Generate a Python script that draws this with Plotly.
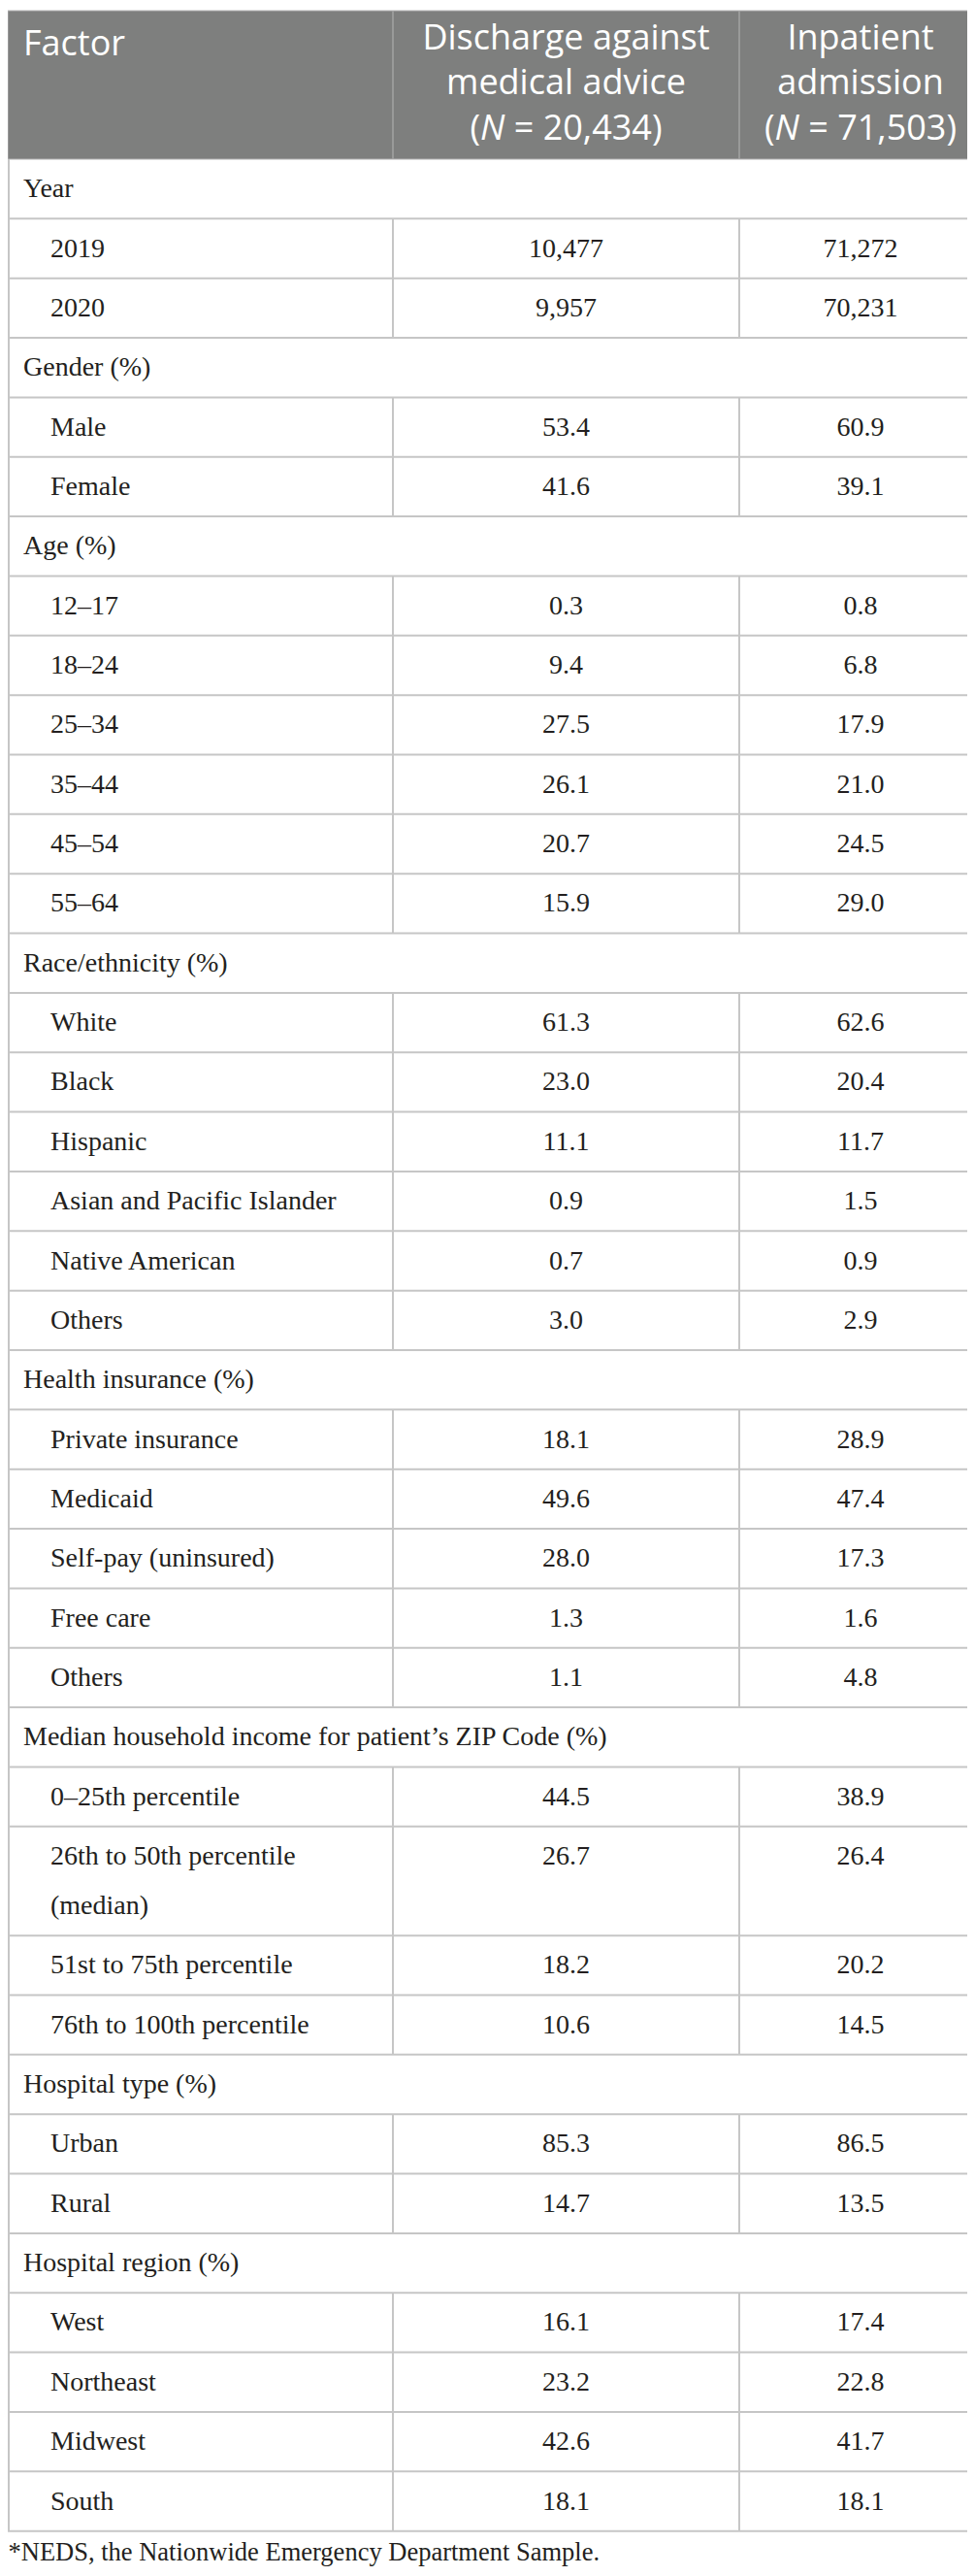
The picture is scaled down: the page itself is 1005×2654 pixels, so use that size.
import plotly.graph_objects as go

# table content
header_factor = "Factor"
header_dama = "Discharge against<br>medical advice<br>(<i>N</i> = 20,434)"
header_inpat = "Inpatient<br>admission<br>(<i>N</i> = 71,503)"

factors = [
    "Year", "2019", "2020",
    "Gender (%)", "Male", "Female",
    "Age (%)", "12\u201317", "18\u201324", "25\u201334", "35\u201344", "45\u201354", "55\u201364",
    "Race/ethnicity (%)", "White", "Black", "Hispanic", "Asian and Pacific Islander",
    "Native American", "Others",
    "Health insurance (%)", "Private insurance", "Medicaid", "Self-pay (uninsured)",
    "Free care", "Others",
    "Median household income for patient\u2019s ZIP Code (%)", "0\u201325th percentile",
    "26th to 50th percentile<br>(median)", "51st to 75th percentile", "76th to 100th percentile",
    "Hospital type (%)", "Urban", "Rural",
    "Hospital region (%)", "West", "Northeast", "Midwest", "South",
]
dama = [
    None, "10,477", "9,957",
    None, "53.4", "41.6",
    None, "0.3", "9.4", "27.5", "26.1", "20.7", "15.9",
    None, "61.3", "23.0", "11.1", "0.9", "0.7", "3.0",
    None, "18.1", "49.6", "28.0", "1.3", "1.1",
    None, "44.5", "26.7", "18.2", "10.6",
    None, "85.3", "14.7",
    None, "16.1", "23.2", "42.6", "18.1",
]
inpatient = [
    None, "71,272", "70,231",
    None, "60.9", "39.1",
    None, "0.8", "6.8", "17.9", "21.0", "24.5", "29.0",
    None, "62.6", "20.4", "11.7", "1.5", "0.9", "2.9",
    None, "28.9", "47.4", "17.3", "1.6", "4.8",
    None, "38.9", "26.4", "20.2", "14.5",
    None, "86.5", "13.5",
    None, "17.4", "22.8", "41.7", "18.1",
]
footnote = "*NEDS, the Nationwide Emergency Department Sample."

W, H = 1005, 2654
col_x = [0, 397, 754, 1004]
header_top, header_bot = 3, 156
row_h = 61.35
line_gap = 51
fs = 28
hfs = 36
serif = "Liberation Serif"
sans = "Open Sans"
ink = "#231f20"
grid = "#c6c6c6"
pad = 7  # offset plotly adds for textposition "middle right"

fig = go.Figure()
shapes = []

# header block
shapes.append(dict(type="rect", x0=col_x[0], x1=col_x[3], y0=header_top, y1=header_bot,
                   fillcolor="#7e7f7e", line=dict(color="#b4b4b4", width=1), layer="below"))
for cx in col_x[1:3]:
    shapes.append(dict(type="line", x0=cx, x1=cx, y0=header_top, y1=header_bot,
                       line=dict(color="#a3a3a3", width=1.5)))

# multi-line header text: middle line baseline at 93
mid = 93 - 0.35 * hfs
fig.add_trace(go.Scatter(
    x=[23 - pad], y=[53 - 0.35 * hfs], text=[header_factor], mode="text",
    textposition="middle right", cliponaxis=False,
    textfont=dict(family=sans, size=hfs, color="white"), hoverinfo="skip", showlegend=False))
fig.add_trace(go.Scatter(
    x=[(col_x[1] + col_x[2]) / 2, (col_x[2] + col_x[3]) / 2], y=[mid, mid],
    text=[header_dama, header_inpat], mode="text", textposition="middle center",
    cliponaxis=False,
    textfont=dict(family=sans, size=hfs, color="white"), hoverinfo="skip", showlegend=False))

# body rows
lab_x, lab_y, lab_t = [], [], []
val_x, val_y, val_t = [], [], []
top = header_bot
for name, a, b in zip(factors, dama, inpatient):
    parts = name.split("<br>")
    h = row_h + line_gap * (len(parts) - 1)
    base = top + 42
    section = a is None
    for k, p in enumerate(parts):
        lab_x.append((23 if section else 51) - pad)
        lab_y.append(base + line_gap * k - 0.35 * fs)
        lab_t.append(p)
    if not section:
        val_x += [(col_x[1] + col_x[2]) / 2, (col_x[2] + col_x[3]) / 2]
        val_y += [base - 0.35 * fs] * 2
        val_t += [a, b]
        for cx in col_x[1:3]:
            shapes.append(dict(type="line", x0=cx, x1=cx, y0=top, y1=top + h,
                               line=dict(color=grid, width=2)))
    for cx in (col_x[0] + 1, col_x[3]):
        shapes.append(dict(type="line", x0=cx, x1=cx, y0=top, y1=top + h,
                           line=dict(color=grid, width=2)))
    top += h
    shapes.append(dict(type="line", x0=col_x[0], x1=col_x[3], y0=top, y1=top,
                       line=dict(color=grid, width=2)))

fig.add_trace(go.Scatter(
    x=lab_x, y=lab_y, text=lab_t, mode="text", textposition="middle right",
    cliponaxis=False,
    textfont=dict(family=serif, size=fs, color=ink), hoverinfo="skip", showlegend=False))
fig.add_trace(go.Scatter(
    x=val_x, y=val_y, text=val_t, mode="text", textposition="middle center",
    cliponaxis=False,
    textfont=dict(family=serif, size=fs, color=ink), hoverinfo="skip", showlegend=False))

# footnote (point kept inside the axis range so it is not hidden)
fig.add_trace(go.Scatter(
    x=[0.5], y=[2633 - 0.35 * 26.5], text=[footnote], mode="text",
    textposition="middle right", cliponaxis=False,
    textfont=dict(family=serif, size=26.5, color=ink), hoverinfo="skip", showlegend=False))

fig.update_layout(
    width=W, height=H,
    margin=dict(l=0, r=0, t=0, b=0),
    paper_bgcolor="white", plot_bgcolor="white",
    xaxis=dict(range=[0, W], visible=False, fixedrange=True),
    yaxis=dict(range=[H, 0], visible=False, fixedrange=True),
    shapes=shapes,
)

fig.write_html("out.html")
